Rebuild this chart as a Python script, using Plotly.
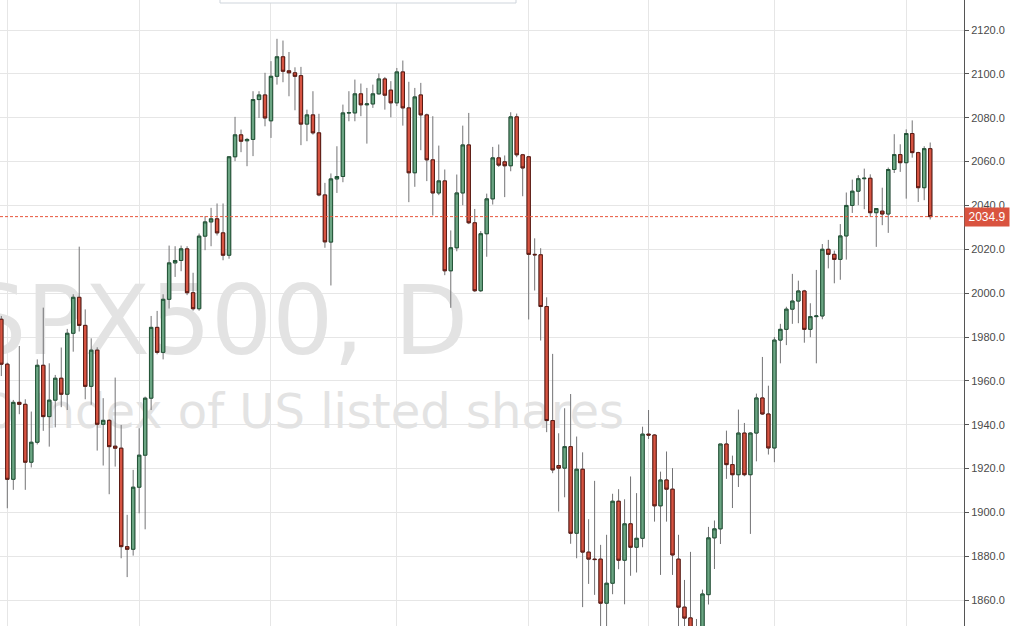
import plotly.graph_objects as go

# ---- data (daily candles) ----
opens = [1988.1,1967.6,1915.1,1950.2,1949.3,1922.9,1932.0,1967.1,1943.7,1951.2,
         1961.2,1953.9,1981.7,1998.1,1985.3,1957.5,1974.0,1940.2,1942.0,1930.2,
         1929.3,1884.4,1883.2,1911.5,1926.1,1952.1,1984.4,1973.0,1997.2,2013.8,
         2014.9,2020.2,2000.2,1992.9,2026.0,2032.5,2033.9,2027.5,2017.3,2062.2,
         2072.2,2069.5,2070.1,2088.3,2090.4,2078.6,2098.9,2107.8,2101.4,2100.5,
         2099.2,2077.1,2081.3,2073.1,2044.8,2023.3,2052.1,2053.2,2082.2,2082.2,
         2090.9,2085.9,2086.3,2090.9,2097.7,2092.6,2086.8,2100.9,2084.5,2054.9,
         2090.4,2081.3,2060.8,2045.7,2051.2,2010.2,2020.7,2045.7,2067.6,2032.1,
         2001.1,2027.1,2043.0,2061.7,2059.9,2058.1,2080.4,2063.1,2062.2,2017.7,
         2017.5,1993.9,1941.9,1921.4,1920.2,1930.0,1890.5,1919.7,1881.9,1878.7,
         1878.7,1858.6,1867.7,1905.1,1878.2,1894.8,1884.1,1888.2,1935.7,1935.3,
         1903.0,1914.8,1910.6,1878.7,1856.8,1851.9,1840.5,1838.0,1862.5,1888.4,
         1892.5,1931.2,1921.8,1917.2,1936.2,1917.2,1936.2,1952.2,1944.9,1929.4,
         1978.6,1983.5,1992.7,1996.4,2001.0,1983.5,1989.3,1989.6,2020.0,2017.7,
         2015.4,2026.1,2040.0,2046.5,2052.2,2052.4,2036.7,2037.4,2036.1,2056.4,
         2063.2,2059.5,2072.8,2064.1,2048.1,2065.9]
highs = [1989.6,1968.3,1951.3,1975.9,1951.6,1946.0,1969.8,1993.4,1968.0,1962.7,
         1975.2,1983.7,1999.5,2021.2,1992.6,1979.4,1975.3,1952.1,1942.5,1961.5,
         1939.9,1898.9,1919.4,1938.4,1952.8,1989.6,1991.9,1999.5,2021.7,2021.4,
         2021.7,2021.4,2009.3,2027.2,2035.1,2038.9,2040.9,2040.9,2062.2,2080.4,
         2074.6,2070.8,2092.1,2092.1,2100.5,2105.8,2116.0,2115.2,2110.0,2103.0,
         2103.2,2083.7,2092.1,2081.8,2050.3,2054.6,2067.0,2086.0,2092.1,2097.4,
         2095.6,2093.6,2095.1,2100.2,2098.6,2096.7,2102.7,2106.1,2096.4,2093.6,
         2095.9,2081.9,2080.7,2067.3,2056.4,2028.6,2054.1,2076.4,2082.2,2038.4,
         2028.3,2045.4,2066.7,2067.8,2062.8,2082.5,2081.9,2063.5,2062.6,2025.0,
         2020.5,1998.1,1972.3,1936.1,1947.5,1954.0,1934.6,1927.4,1896.9,1914.4,
         1885.2,1889.8,1908.5,1910.6,1906.0,1916.4,1908.8,1939.1,1946.7,1935.7,
         1918.6,1927.8,1920.2,1889.8,1869.2,1882.0,1851.4,1864.8,1893.4,1896.3,
         1931.2,1937.3,1925.9,1946.9,1940.8,1936.5,1954.2,1970.9,1957.8,1980.0,
         1986.0,1993.8,2008.8,2005.7,2001.5,1995.4,2010.6,2022.4,2024.3,2019.4,
         2031.5,2045.9,2051.8,2053.8,2056.8,2054.2,2038.8,2048.1,2057.3,2072.5,
         2067.9,2074.7,2078.8,2064.5,2067.0,2068.7]
lows = [1962.2,1901.9,1910.3,1944.8,1910.3,1920.5,1931.0,1937.2,1930.0,1938.8,
        1948.0,1946.7,1973.3,1982.5,1951.6,1949.1,1928.2,1921.4,1908.3,1920.9,
        1879.1,1870.5,1880.3,1899.6,1892.3,1946.7,1972.1,1969.8,1993.0,2007.4,
        2010.0,1999.1,1992.0,1992.0,2019.6,2021.4,2026.3,2015.0,2015.7,2060.2,
        2064.3,2057.9,2062.5,2079.9,2076.1,2070.8,2095.1,2096.2,2089.8,2083.4,
        2067.5,2069.3,2072.3,2044.2,2020.7,2003.5,2045.7,2050.6,2078.4,2078.4,
        2080.7,2068.2,2084.5,2090.6,2083.7,2080.2,2085.3,2076.4,2041.5,2048.5,
        2065.2,2051.1,2035.4,2044.7,2008.2,1993.3,2019.1,2040.1,2031.5,2000.5,
        2000.5,2016.6,2040.4,2057.6,2043.8,2055.6,2062.0,2044.2,1988.0,2001.2,
        1978.4,1936.6,1917.9,1900.4,1906.9,1885.7,1879.1,1856.8,1867.4,1862.4,
        1845.0,1844.0,1862.7,1874.1,1858.1,1871.1,1872.6,1884.1,1933.5,1895.8,
        1871.5,1895.8,1871.5,1845.0,1843.0,1836.0,1832.0,1834.0,1858.0,1874.2,
        1885.6,1915.3,1902.0,1911.6,1916.5,1890.2,1923.3,1944.5,1926.4,1922.9,
        1968.0,1976.3,1986.0,1986.3,1977.4,1979.9,1968.0,1988.1,2011.3,2004.5,
        2006.1,2015.3,2036.6,2040.1,2038.3,2034.8,2021.1,2031.0,2027.5,2054.8,
        2055.3,2043.1,2061.8,2041.6,2042.4,2033.6]
closes = [1967.6,1915.1,1950.2,1949.3,1922.9,1932.0,1967.1,1943.7,1951.2,1961.2,
          1953.9,1981.7,1998.1,1985.3,1957.5,1974.0,1940.2,1942.0,1930.0,1929.3,
          1884.4,1883.2,1911.5,1926.1,1952.1,1984.4,1973.0,1997.2,2013.8,2014.9,
          2020.2,2000.2,1992.9,2026.0,2032.5,2033.9,2027.5,2017.3,2062.2,2072.2,
          2069.3,2070.1,2088.3,2090.4,2079.9,2098.9,2107.8,2101.2,2100.5,2098.9,
          2077.1,2081.3,2073.1,2044.8,2023.4,2052.1,2053.2,2082.2,2082.3,2090.9,
          2085.9,2086.3,2090.9,2097.7,2090.3,2086.8,2100.9,2084.5,2054.9,2089.5,
          2081.3,2060.8,2045.7,2051.2,2010.2,2020.7,2045.7,2067.6,2032.1,2001.1,
          2027.1,2043.0,2061.7,2058.4,2058.1,2080.4,2063.1,2057.1,2017.7,2017.5,
          1993.9,1941.9,1919.4,1920.2,1930.0,1890.5,1919.7,1881.9,1878.7,1878.5,
          1858.6,1867.7,1905.1,1878.2,1894.8,1884.1,1888.2,1935.7,1935.3,1903.0,
          1914.8,1910.6,1880.6,1856.8,1851.8,1840.5,1838.0,1862.8,1888.4,1892.5,
          1931.2,1921.8,1917.2,1936.2,1917.2,1936.2,1952.2,1944.9,1929.4,1978.6,
          1983.5,1992.7,1996.4,2001.0,1983.5,1989.3,1989.6,2020.0,2017.7,2015.4,
          2026.1,2040.0,2046.5,2052.2,2052.4,2036.7,2038.6,2036.1,2056.4,2063.2,
          2059.5,2072.8,2064.1,2048.1,2065.9,2034.9]
bar_index = list(range(len(closes)))
month_starts = [1, 23, 45, 66, 88, 108, 129, 151]   # vertical grid lines
price_ticks = list(range(1860, 2121, 20))
symbol_text = "SPX500, D"
desc_text = "S&P 500 Index of US listed shares"

body_hi = [max(o, c) for o, c in zip(opens, closes)]
body_lo = [min(o, c) for o, c in zip(opens, closes)]

X_RANGE = [-0.22, 160.64]
Y_RANGE = [1848.2, 2133.7]

UP_FILL, UP_LINE = "#6ba583", "#225437"
DN_FILL, DN_LINE = "#d75442", "#5b1a13"
WICK = "#737375"

fig = go.Figure()

# watermark (base subplot, beneath candles)
fig.add_trace(go.Scatter(
    x=[77.9, 103.9], y=[1983.4, 1943.8], mode="text",
    text=[symbol_text, desc_text], textposition="middle left",
    textfont=dict(family="DejaVu Sans", size=[96, 48], color="#e3e3e3"),
    hoverinfo="skip", showlegend=False, xaxis="x", yaxis="y"))

# wicks (gray) + bodies
fig.add_trace(go.Candlestick(
    x=bar_index, open=opens, high=highs, low=lows, close=closes,
    increasing=dict(fillcolor=UP_FILL, line=dict(color=WICK, width=1)),
    decreasing=dict(fillcolor=DN_FILL, line=dict(color=WICK, width=1)),
    whiskerwidth=0, showlegend=False, xaxis="x2", yaxis="y2"))
fig.add_trace(go.Candlestick(
    x=bar_index, open=opens, high=body_hi, low=body_lo, close=closes,
    increasing=dict(fillcolor=UP_FILL, line=dict(color=UP_LINE, width=1)),
    decreasing=dict(fillcolor=DN_FILL, line=dict(color=DN_LINE, width=1)),
    whiskerwidth=0, showlegend=False, xaxis="x2", yaxis="y2"))

last = closes[-1]
fig.update_layout(
    width=1010, height=626,
    margin=dict(l=0, r=46, t=0, b=0, pad=0),
    paper_bgcolor="white", plot_bgcolor="white",
    showlegend=False,
    boxgap=0.2,
    xaxis=dict(range=X_RANGE, tickvals=month_starts, showticklabels=False,
               showgrid=True, gridcolor="#e6e6e6", gridwidth=1, zeroline=False,
               showline=False, ticks="", rangeslider=dict(visible=False),
               automargin=False, fixedrange=True),
    yaxis=dict(range=Y_RANGE, side="right", tickvals=price_ticks, tickformat=".1f",
               showgrid=True, gridcolor="#e6e6e6", gridwidth=1, zeroline=False,
               showline=True, linecolor="#555555", linewidth=1,
               ticks="outside", ticklen=4, tickcolor="#555555",
               tickfont=dict(family="Liberation Sans", size=11, color="#4a4a4a"),
               automargin=False, fixedrange=True),
    xaxis2=dict(range=X_RANGE, overlaying="x", anchor="y2", visible=False,
                rangeslider=dict(visible=False), fixedrange=True),
    yaxis2=dict(range=Y_RANGE, overlaying="y", anchor="x2", visible=False,
                fixedrange=True),
    shapes=[
        dict(type="line", xref="paper", yref="y", x0=0, x1=1, y0=last, y1=last,
             line=dict(color="#e8553a", width=1, dash="3px,2px")),
        dict(type="rect", xref="paper", yref="paper", x0=220/964, x1=516/964,
             y0=1-3/626, y1=1.05, line=dict(color="#cfd5dc", width=1),
             fillcolor="white"),
    ],
    annotations=[
        dict(xref="paper", yref="y", x=1, y=last, xanchor="left", yanchor="middle",
             text=f"{last:.1f}", showarrow=False, bgcolor="#d9533f",
             font=dict(family="Liberation Sans", size=12, color="white"),
             borderpad=2, width=40, align="center"),
    ],
)

fig.write_html(
    "out.html",
    config={"displayModeBar": False},
    post_script="document.body.style.margin='0';document.body.style.overflow='hidden';",
)
